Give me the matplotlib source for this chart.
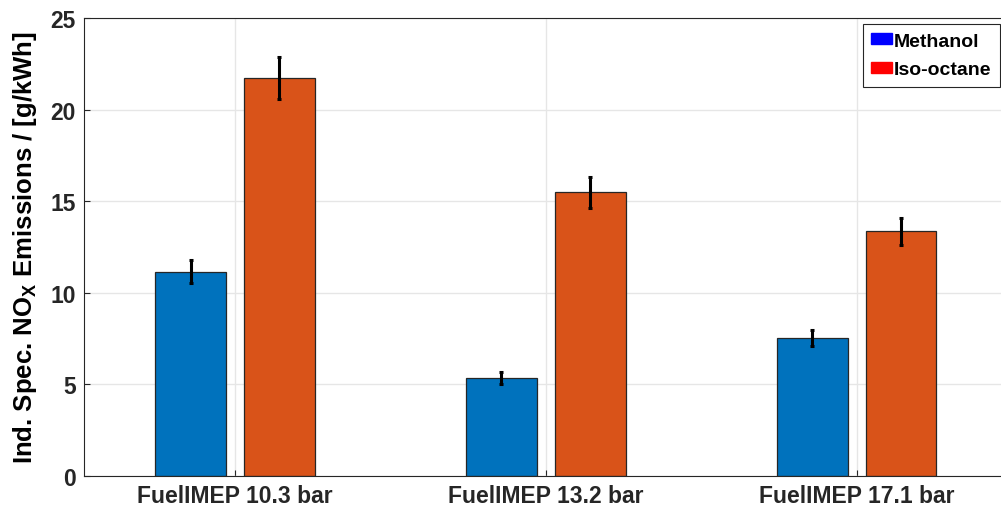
import numpy as np
import matplotlib.pyplot as plt

plt.rc('font', family='Liberation Sans', weight='bold', size=16.5)
plt.rc('axes', labelweight='bold')
plt.rc('mathtext', fontset='custom', bf='Liberation Sans:bold', rm='Liberation Sans:bold')

groups = ['FuelIMEP 10.3 bar', 'FuelIMEP 13.2 bar', 'FuelIMEP 17.1 bar']
methanol = [11.15, 5.35, 7.53]
methanol_err = [0.63, 0.32, 0.44]
isooctane = [21.74, 15.49, 13.36]
isooctane_err = [1.15, 0.85, 0.73]

c_meth = '#0072BD'
c_iso = '#D95319'
edge = '#262626'

fig = plt.figure(figsize=(10.01, 5.10), dpi=100)
# the right edge of the box runs just past the picture, as in the original
ax = fig.add_axes([84/1001, 1-477/510, (1012-84)/1001, (477-19)/510])

x = np.arange(1, len(groups)+1)
w = 0.228
off = 0.143
ax.bar(x-off, methanol, w, color=c_meth, edgecolor=edge, linewidth=0.9, zorder=2)
ax.bar(x+off, isooctane, w, color=c_iso, edgecolor=edge, linewidth=0.9, zorder=2)
ax.errorbar(x-off, methanol, yerr=methanol_err, fmt='none', ecolor='black',
            elinewidth=2.2, capsize=1.5, capthick=2.2, zorder=3)
ax.errorbar(x+off, isooctane, yerr=isooctane_err, fmt='none', ecolor='black',
            elinewidth=2.2, capsize=1.5, capthick=2.2, zorder=3)

# legend with pure blue / red patches like the original
h1 = plt.Rectangle((0, 0), 1, 1, color='#0000FF')
h2 = plt.Rectangle((0, 0), 1, 1, color='#FF0000')
leg = ax.legend([h1, h2], ['Methanol', 'Iso-octane'], loc='upper right',
                bbox_to_anchor=(1000/1001, 1-25/510), bbox_transform=fig.transFigure,
                fancybox=False, framealpha=1, edgecolor=edge, fontsize=14,
                handlelength=1.05, handleheight=0.5, handletextpad=0.1,
                borderpad=0.45, labelspacing=0.6, borderaxespad=0)
leg.get_frame().set_linewidth(0.8)

ax.set_xlim(0.514, 3.5)
ax.set_ylim(0, 25)
ax.set_yticks([0, 5, 10, 15, 20, 25])
ax.set_xticks(x)
ax.set_xticklabels(groups)
ax.set_ylabel(r'Ind. Spec. NO$_\mathbf{X}$ Emissions / [g/kWh]', fontsize=18.5,
              fontweight='bold', labelpad=8)
ax.grid(True, color='#e6e6e6', linewidth=1, zorder=0)
ax.set_axisbelow(True)
ax.tick_params(direction='in', length=4, color=edge, labelcolor='#262626', pad=6)
for s in ax.spines.values():
    s.set_color(edge)
    s.set_linewidth(0.8)

plt.savefig('out.png', dpi=100)
